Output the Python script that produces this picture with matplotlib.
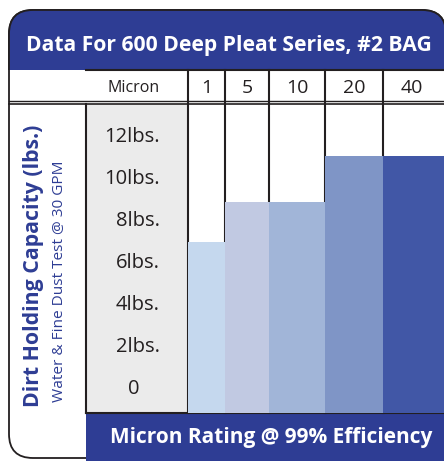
import matplotlib
matplotlib.use("Agg")
import matplotlib.pyplot as plt
from matplotlib.patches import FancyBboxPatch, Rectangle
from matplotlib.transforms import blended_transform_factory

# ---- data ----
microns = ["1", "5", "10", "20", "40"]
capacity_lbs = [7.0, 8.9, 8.9, 11.1, 11.1]
tick_values = [0, 2, 4, 6, 8, 10, 12]
tick_labels = ["0", "2lbs.", "4lbs.", "6lbs.", "8lbs.", "10lbs.", "12lbs."]
title = "Data For 600 Deep Pleat Series, #2 BAG"
header_label = "Micron"
ylabel_main = "Dirt Holding Capacity (lbs.)"
ylabel_sub = "Water & Fine Dust Test @ 30 GPM"
xlabel = "Micron Rating @ 99% Efficiency"

# ---- layout / style ----
W, H = 444, 461
col_edges_px = [188, 225, 269, 325, 383, 452]
bar_colors = ["#c5d8ee", "#c1c9e2", "#a1b5d8", "#7f95c6", "#4157a6"]
blue = "#2e3d94"
dark = "#231f20"
gray = "#ebebeb"
FONT = "Open Sans"
plot_top, plot_bot = 104, 413
zero_px, px_per_lb = 389, 21.0

fig = plt.figure(figsize=(W / 100, H / 100), dpi=100)
bg = fig.add_axes([0, 0, 1, 1])
bg.set_xlim(0, W)
bg.set_ylim(H, 0)
bg.axis("off")

# outer rounded box
outer = FancyBboxPatch((9, 10), 437, 448, boxstyle="round,pad=0,rounding_size=24",
                       fc="white", ec=dark, lw=1.3, zorder=1)
bg.add_patch(outer)
# header blue (rounded top)
hdr = FancyBboxPatch((9, 10), 437, 120, boxstyle="round,pad=0,rounding_size=24",
                     fc=blue, ec=dark, lw=1.3, zorder=2)
bg.add_patch(hdr)
clip = Rectangle((0, 0), W, 70, transform=bg.transData)
hdr.set_clip_path(clip)
bg.text(229, 45, title, color="white", fontsize=15.2, fontweight="bold",
        family=FONT, ha="center", va="center", zorder=5)

# gray tick-label column
bg.add_patch(Rectangle((86, plot_top), 188 - 86, plot_bot - plot_top, fc=gray, ec="none", zorder=2))
# bottom blue band
bg.add_patch(Rectangle((86, plot_bot), 452 - 86, H - plot_bot + 2, fc=blue, ec="none", zorder=2))
bg.text(271, 437, xlabel, color="white", fontsize=15.0, fontweight="bold",
        family=FONT, ha="center", va="center", zorder=5)

# bars axes
ax = fig.add_axes([188 / W, (H - plot_bot) / H, (452 - 188) / W, (plot_bot - plot_top) / H])
ax.patch.set_alpha(0)
ymin = (zero_px - plot_bot) / px_per_lb
ymax = (zero_px - plot_top) / px_per_lb
ax.set_ylim(ymin, ymax)
ax.set_xlim(col_edges_px[0], col_edges_px[-1])
lefts = col_edges_px[:-1]
widths = [b - a for a, b in zip(col_edges_px[:-1], col_edges_px[1:])]
ax.bar(lefts, [v - ymin for v in capacity_lbs], width=widths, bottom=ymin,
       align="edge", color=bar_colors, edgecolor="none", zorder=1)
ax.axis("off")

# tick labels in gray column
tr = blended_transform_factory(bg.transData, ax.transData)
for v, lab in zip(tick_values, tick_labels):
    if lab == "0":
        bg.text(134, v, lab, transform=tr, fontsize=14.5, family=FONT, color=dark,
                ha="center", va="center", zorder=6)
    else:
        bg.text(160, v, lab, transform=tr, fontsize=14.5, family=FONT, color=dark,
                ha="right", va="center", zorder=6)

# header row labels
bg.text(134, 88, header_label, fontsize=11.5, family=FONT, color=dark, ha="center", va="center", zorder=6)
for i, m in enumerate(microns):
    cx = (col_edges_px[i] + min(col_edges_px[i + 1], 444)) / 2
    if i == len(microns) - 1:
        cx = 412
    bg.text(cx, 88, m, fontsize=14, family=FONT, color=dark, ha="center", va="center", zorder=6)

# rotated y labels
bg.text(33, 266, ylabel_main, rotation=90, fontsize=15.3, fontweight="bold", family=FONT,
        color=blue, ha="center", va="center", zorder=6)
bg.text(60, 281, ylabel_sub, rotation=90, fontsize=11.1, family=FONT,
        color=blue, ha="center", va="center", zorder=6)

# grid lines
lw = 1.5
bg.plot([86, 452], [70, 70], color=dark, lw=lw, zorder=7)
bg.plot([9, 452], [101.5, 101.5], color=dark, lw=1.0, zorder=7)
bg.plot([9, 452], [104.5, 104.5], color=dark, lw=1.2, zorder=7)
bg.plot([86, 452], [plot_bot, plot_bot], color=dark, lw=lw, zorder=7)
bg.plot([86, 86], [104, plot_bot], color=dark, lw=lw, zorder=7)
for x in col_edges_px[:-1]:
    bg.plot([x, x], [70, plot_bot], color=dark, lw=lw, zorder=7)

fig.savefig("out.png", dpi=100)
